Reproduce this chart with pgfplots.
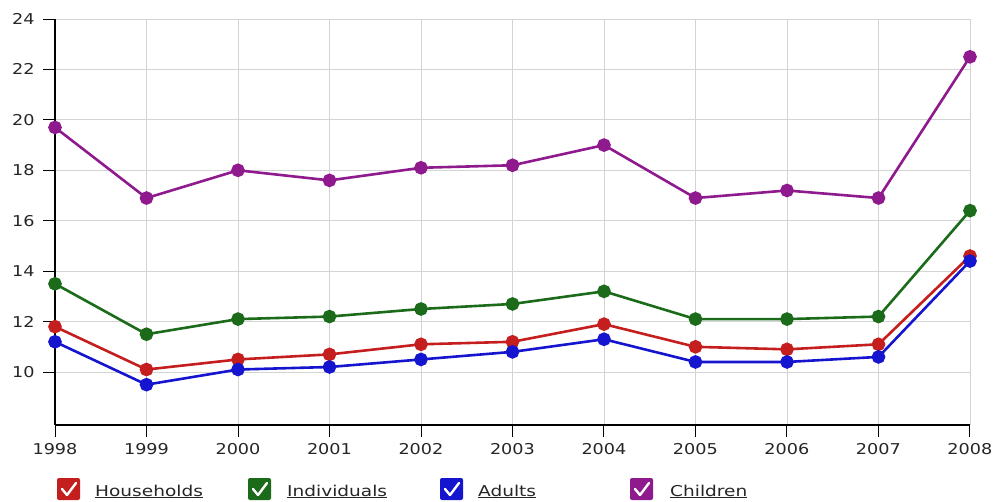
\documentclass[border=0pt]{standalone}
\usepackage{pgfplots}
\pgfplotsset{compat=1.18}
\usepackage{fontspec}
\setmainfont{DejaVu Sans}
\newfontfamily\tickfont{DejaVu Sans}[FakeStretch=1.18]
\newfontfamily\legfont{DejaVu Sans}[FakeStretch=1.24]
\usetikzlibrary{calc}
\definecolor{cHouse}{HTML}{C41E1E}
\definecolor{cIndiv}{HTML}{1B6B1B}
\definecolor{cAdult}{HTML}{1515D0}
\definecolor{cChild}{HTML}{8E1A8E}
\definecolor{txt}{HTML}{262626}

\newcommand{\checkbox}[3]{%
  \fill[#1, rounded corners=2bp] (#2bp,#3bp) rectangle ++(23bp,22bp);
  \draw[white, line width=2.4bp, line cap=round, line join=round]
    ($(#2bp,#3bp)+(5bp,11bp)$) -- ++(5bp,-6bp) -- ++(9bp,12bp);
}

\begin{document}
\begin{tikzpicture}
\useasboundingbox (-55bp,-77bp) rectangle (940bp,425bp);
\begin{axis}[
  at={(0,0)}, anchor=south west,
  scale only axis, width=915bp, height=406bp,
  xmin=1998, xmax=2008, ymin=7.9, ymax=24,
  xtick={1998,...,2008}, ytick={10,12,...,24},
  xticklabels={1998,1999,2000,2001,2002,2003,2004,2005,2006,2007,2008},
  axis lines*=left,
  axis line style={line width=2.6bp, black},
  tick style={black, line width=0.9bp},
  major tick length=12bp,
  tick align=outside,
  grid=major,
  major grid style={black!17, line width=0.8bp},
  /pgf/number format/assume math mode=true,
  tick label style={font=\tickfont\fontsize{15}{18}\selectfont, text=txt},
  xticklabel style={yshift=-3bp},
  yticklabel style={anchor=east, xshift=-5bp},
  every axis plot/.append style={line width=2.6bp, mark=*, mark size=5.5bp},
  clip=false,
]
\addplot[cChild, mark options={fill=cChild}] coordinates {
  (1998,19.7) (1999,16.9) (2000,18.0) (2001,17.6) (2002,18.1) (2003,18.2)
  (2004,19.0) (2005,16.9) (2006,17.2) (2007,16.9) (2008,22.5)};
\addplot[cIndiv, mark options={fill=cIndiv}] coordinates {
  (1998,13.5) (1999,11.5) (2000,12.1) (2001,12.2) (2002,12.5) (2003,12.7)
  (2004,13.2) (2005,12.1) (2006,12.1) (2007,12.2) (2008,16.4)};
\addplot[cHouse, mark options={fill=cHouse}] coordinates {
  (1998,11.8) (1999,10.1) (2000,10.5) (2001,10.7) (2002,11.1) (2003,11.2)
  (2004,11.9) (2005,11.0) (2006,10.9) (2007,11.1) (2008,14.6)};
\addplot[cAdult, mark options={fill=cAdult}] coordinates {
  (1998,11.2) (1999,9.5) (2000,10.1) (2001,10.2) (2002,10.5) (2003,10.8)
  (2004,11.3) (2005,10.4) (2006,10.4) (2007,10.6) (2008,14.4)};
\end{axis}
% legend row with check boxes
\checkbox{cHouse}{2}{-75}
\checkbox{cIndiv}{193}{-75}
\checkbox{cAdult}{385}{-75}
\checkbox{cChild}{575}{-75}
\begin{scope}[every node/.style={anchor=base west, inner sep=0pt, text=txt,
    font=\legfont\fontsize{15}{18}\selectfont}]
\node at (40bp,-71bp) {\underline{Households}};
\node at (232bp,-71bp) {\underline{Individuals}};
\node at (423bp,-71bp) {\underline{Adults}};
\node at (615bp,-71bp) {\underline{Children}};
\end{scope}
\end{tikzpicture}
\end{document}
